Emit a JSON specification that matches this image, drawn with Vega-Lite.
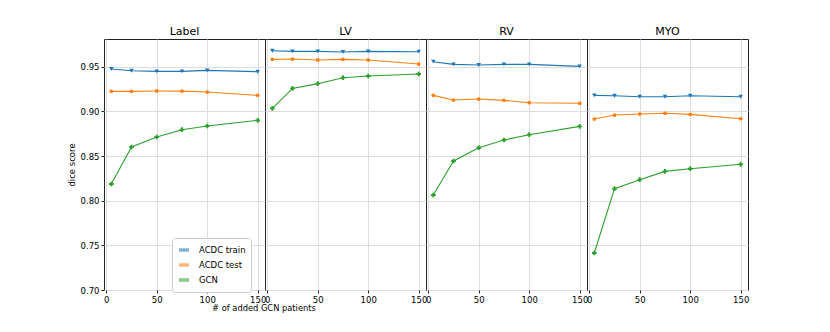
{
  "$schema": "https://vega.github.io/schema/vega-lite/v6.json",
  "padding": {"left": 67, "top": 26, "right": 5, "bottom": 5},
  "bounds": "flush",
  "config": {
    "font": "DejaVu Sans",
    "view": {"stroke": "#222222", "strokeWidth": 1},
    "axis": {"domain": false, "tickColor": "#222222", "tickSize": 3, "labelPadding": 2, "labelFontSize": 8.5, "labelColor": "#000000", "titleFontSize": 8.5, "titleFontWeight": "normal", "titleColor": "#000000", "gridColor": "#dddddd", "gridWidth": 1},
    "header": {"labelFontSize": 11, "labelFontWeight": "normal", "labelColor": "#000000", "labelPadding": 2, "title": null}
  },
  "title": {"text": "# of added GCN patients", "orient": "bottom", "anchor": "start", "dx": 145, "offset": 0, "fontSize": 8.3, "fontWeight": "normal", "color": "#000000"},
  "data": {"values": [
    {"region": "Label", "series": "ACDC train", "n": 5, "dice": 0.9474},
    {"region": "Label", "series": "ACDC train", "n": 25, "dice": 0.9455},
    {"region": "Label", "series": "ACDC train", "n": 50, "dice": 0.9448},
    {"region": "Label", "series": "ACDC train", "n": 75, "dice": 0.9448},
    {"region": "Label", "series": "ACDC train", "n": 100, "dice": 0.9459},
    {"region": "Label", "series": "ACDC train", "n": 150, "dice": 0.9444},
    {"region": "Label", "series": "ACDC test", "n": 5, "dice": 0.9224},
    {"region": "Label", "series": "ACDC test", "n": 25, "dice": 0.9224},
    {"region": "Label", "series": "ACDC test", "n": 50, "dice": 0.9228},
    {"region": "Label", "series": "ACDC test", "n": 75, "dice": 0.9226},
    {"region": "Label", "series": "ACDC test", "n": 100, "dice": 0.9216},
    {"region": "Label", "series": "ACDC test", "n": 150, "dice": 0.9179},
    {"region": "Label", "series": "GCN", "n": 5, "dice": 0.8187},
    {"region": "Label", "series": "GCN", "n": 25, "dice": 0.8601},
    {"region": "Label", "series": "GCN", "n": 50, "dice": 0.8713},
    {"region": "Label", "series": "GCN", "n": 75, "dice": 0.8795},
    {"region": "Label", "series": "GCN", "n": 100, "dice": 0.8836},
    {"region": "Label", "series": "GCN", "n": 150, "dice": 0.8899},
    {"region": "LV", "series": "ACDC train", "n": 5, "dice": 0.9679},
    {"region": "LV", "series": "ACDC train", "n": 25, "dice": 0.9672},
    {"region": "LV", "series": "ACDC train", "n": 50, "dice": 0.9672},
    {"region": "LV", "series": "ACDC train", "n": 75, "dice": 0.9664},
    {"region": "LV", "series": "ACDC train", "n": 100, "dice": 0.9672},
    {"region": "LV", "series": "ACDC train", "n": 150, "dice": 0.9668},
    {"region": "LV", "series": "ACDC test", "n": 5, "dice": 0.9582},
    {"region": "LV", "series": "ACDC test", "n": 25, "dice": 0.9586},
    {"region": "LV", "series": "ACDC test", "n": 50, "dice": 0.9575},
    {"region": "LV", "series": "ACDC test", "n": 75, "dice": 0.9582},
    {"region": "LV", "series": "ACDC test", "n": 100, "dice": 0.9575},
    {"region": "LV", "series": "ACDC test", "n": 150, "dice": 0.9530},
    {"region": "LV", "series": "GCN", "n": 5, "dice": 0.9034},
    {"region": "LV", "series": "GCN", "n": 25, "dice": 0.9257},
    {"region": "LV", "series": "GCN", "n": 50, "dice": 0.9310},
    {"region": "LV", "series": "GCN", "n": 75, "dice": 0.9377},
    {"region": "LV", "series": "GCN", "n": 100, "dice": 0.9396},
    {"region": "LV", "series": "GCN", "n": 150, "dice": 0.9418},
    {"region": "RV", "series": "ACDC train", "n": 5, "dice": 0.9556},
    {"region": "RV", "series": "ACDC train", "n": 25, "dice": 0.9526},
    {"region": "RV", "series": "ACDC train", "n": 50, "dice": 0.9519},
    {"region": "RV", "series": "ACDC train", "n": 75, "dice": 0.9526},
    {"region": "RV", "series": "ACDC train", "n": 100, "dice": 0.9526},
    {"region": "RV", "series": "ACDC train", "n": 150, "dice": 0.9504},
    {"region": "RV", "series": "ACDC test", "n": 5, "dice": 0.9179},
    {"region": "RV", "series": "ACDC test", "n": 25, "dice": 0.9127},
    {"region": "RV", "series": "ACDC test", "n": 50, "dice": 0.9138},
    {"region": "RV", "series": "ACDC test", "n": 75, "dice": 0.9123},
    {"region": "RV", "series": "ACDC test", "n": 100, "dice": 0.9097},
    {"region": "RV", "series": "ACDC test", "n": 150, "dice": 0.9090},
    {"region": "RV", "series": "GCN", "n": 5, "dice": 0.8063},
    {"region": "RV", "series": "GCN", "n": 25, "dice": 0.8444},
    {"region": "RV", "series": "GCN", "n": 50, "dice": 0.8593},
    {"region": "RV", "series": "GCN", "n": 75, "dice": 0.8679},
    {"region": "RV", "series": "GCN", "n": 100, "dice": 0.8739},
    {"region": "RV", "series": "GCN", "n": 150, "dice": 0.8832},
    {"region": "MYO", "series": "ACDC train", "n": 5, "dice": 0.9179},
    {"region": "MYO", "series": "ACDC train", "n": 25, "dice": 0.9175},
    {"region": "MYO", "series": "ACDC train", "n": 50, "dice": 0.9164},
    {"region": "MYO", "series": "ACDC train", "n": 75, "dice": 0.9164},
    {"region": "MYO", "series": "ACDC train", "n": 100, "dice": 0.9175},
    {"region": "MYO", "series": "ACDC train", "n": 150, "dice": 0.9164},
    {"region": "MYO", "series": "ACDC test", "n": 5, "dice": 0.8914},
    {"region": "MYO", "series": "ACDC test", "n": 25, "dice": 0.8959},
    {"region": "MYO", "series": "ACDC test", "n": 50, "dice": 0.8970},
    {"region": "MYO", "series": "ACDC test", "n": 75, "dice": 0.8978},
    {"region": "MYO", "series": "ACDC test", "n": 100, "dice": 0.8966},
    {"region": "MYO", "series": "ACDC test", "n": 150, "dice": 0.8918},
    {"region": "MYO", "series": "GCN", "n": 5, "dice": 0.7414},
    {"region": "MYO", "series": "GCN", "n": 25, "dice": 0.8134},
    {"region": "MYO", "series": "GCN", "n": 50, "dice": 0.8235},
    {"region": "MYO", "series": "GCN", "n": 75, "dice": 0.8328},
    {"region": "MYO", "series": "GCN", "n": 100, "dice": 0.8358},
    {"region": "MYO", "series": "GCN", "n": 150, "dice": 0.8407}
  ]},
  "facet": {"column": {"field": "region", "type": "nominal", "sort": ["Label", "LV", "RV", "MYO"], "header": {"title": null}}},
  "spacing": 0,
  "resolve": {"axis": {"x": "independent"}},
  "spec": {
    "width": 161,
    "height": 251,
    "encoding": {
      "x": {"field": "n", "type": "quantitative", "scale": {"domain": [-2.25, 157.25], "nice": false, "zero": false},
            "axis": {"title": null, "values": [0, 50, 100, 150], "grid": true}},
      "y": {"field": "dice", "type": "quantitative", "scale": {"domain": [0.70, 0.981], "nice": false, "zero": false},
            "axis": {"title": "dice score", "values": [0.70, 0.75, 0.80, 0.85, 0.90, 0.95], "format": ".2f", "titlePadding": 4, "grid": true}}
    },
    "layer": [
      {"mark": {"type": "line", "strokeWidth": 1.1},
       "encoding": {
         "color": {"field": "series", "type": "nominal",
                "scale": {"domain": ["ACDC train", "ACDC test", "GCN"], "range": ["#1f77b4", "#ff7f0e", "#2ca02c"]},
                "legend": {"title": null, "orient": "none", "legendX": 68, "legendY": 199, "symbolType": "stroke", "symbolStrokeWidth": 3.5, "symbolOpacity": 0.55, "symbolSize": 100, "labelFontSize": 8.5, "labelColor": "#000000", "strokeColor": "#cccccc", "fillColor": "#ffffff", "padding": 5, "cornerRadius": 3, "rowPadding": 1, "labelOffset": 8}}
       }},
      {"transform": [{"filter": "datum.series === 'ACDC train'"}],
       "mark": {"type": "point", "shape": "triangle-down", "filled": true, "opacity": 1, "color": "#1f77b4", "size": 20}},
      {"transform": [{"filter": "datum.series === 'ACDC test'"}],
       "mark": {"type": "point", "shape": "circle", "filled": true, "opacity": 1, "color": "#ff7f0e", "size": 14}},
      {"transform": [{"filter": "datum.series === 'GCN'"}],
       "mark": {"type": "point", "shape": "cross", "filled": true, "opacity": 1, "color": "#2ca02c", "size": 22}}
    ]
  }
}
